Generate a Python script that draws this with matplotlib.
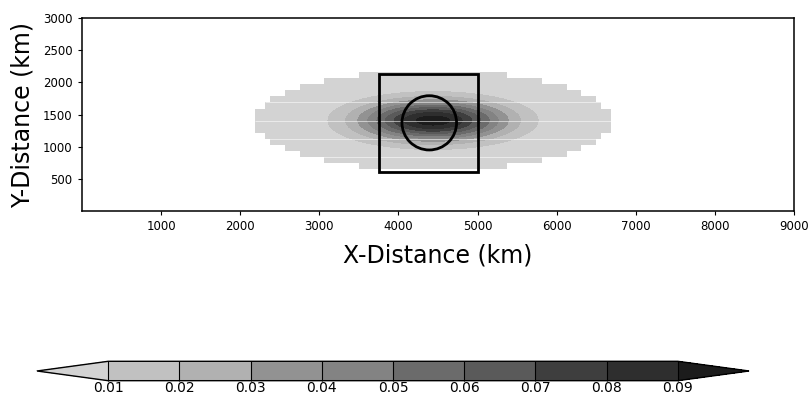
import numpy as np
import matplotlib
matplotlib.use("Agg")
import matplotlib.pyplot as plt
from matplotlib.colors import ListedColormap, BoundaryNorm
from matplotlib.patches import Rectangle, Ellipse
import matplotlib.cm as cm

plt.rcParams['font.family'] = ['DejaVu Sans']

# contour levels and grey shades (under, 8 bands, over)
levels = [0.01, 0.02, 0.03, 0.04, 0.05, 0.06, 0.07, 0.08, 0.09]
grays = ['#d3d3d3', '#c1c1c1', '#b1b1b1', '#929292', '#838383',
         '#6b6b6b', '#5a5a5a', '#3e3e3e', '#2e2e2e', '#1c1c1c']

# blob parameters (km)
blob_center = (4437.5, 1406.25)
blob_amp = 0.095
blob_len = (885.0, 301.0)
blob_min = 1.4e-4          # below this the model field is missing
grid_step = (62.5, 93.75)  # coarse model grid

# overlays
box_x = (3750, 5000)
box_y = (600, 2130)
circ_center = (4390, 1370)
circ_radius = (345, 423)

xticks = [1000, 2000, 3000, 4000, 5000, 6000, 7000, 8000, 9000]
yticks = [500, 1000, 1500, 2000, 2500, 3000]
seam_rows = [9, 12, 15, 18]


def field(x, y):
    return blob_amp * np.exp(-((x - blob_center[0]) / blob_len[0]) ** 2
                             - ((y - blob_center[1]) / blob_len[1]) ** 2)


fig = plt.figure(figsize=(8.11, 3.99), dpi=100)
ax = fig.add_axes([0.1011, 0.4719, 0.8779, 0.4822])

# coarse grid: area where field exists
xe = np.arange(0, 9000 + 1, grid_step[0])
ye = np.arange(0, 3000 + 1, grid_step[1])
xc = 0.5 * (xe[:-1] + xe[1:])
yc = 0.5 * (ye[:-1] + ye[1:])
XC, YC = np.meshgrid(xc, yc)
FC = field(XC, YC)
valid = np.ma.masked_less(FC, blob_min)
ax.pcolormesh(xe, ye, valid, cmap=ListedColormap([grays[0]]),
              shading='flat', edgecolors='face', linewidth=0)

# smooth filled contours
xf = np.linspace(0, 9000, 901)
yf = np.linspace(0, 3000, 601)
XF, YF = np.meshgrid(xf, yf)
FF = field(XF, YF)
ax.contourf(xf, yf, FF, levels=levels + [1.0], colors=grays[1:])

# faint raster seams inside the valid area
ok = FC >= blob_min
for k in seam_rows:
    cols = np.where(ok[k - 1] | ok[k])[0]
    if len(cols):
        ax.hlines(ye[k], xe[cols[0]], xe[cols[-1] + 1], color='white',
                  lw=0.7, alpha=0.55)

ax.add_patch(Rectangle((box_x[0], box_y[0]), box_x[1] - box_x[0],
                       box_y[1] - box_y[0], fill=False, lw=2, ec='black', zorder=5))
ax.add_patch(Ellipse(circ_center, 2 * circ_radius[0], 2 * circ_radius[1],
                     fill=False, lw=2, ec='black', zorder=5))

ax.set_xlim(0, 9000)
ax.set_ylim(0, 3000)
ax.set_xticks(xticks)
ax.set_yticks(yticks)
ax.tick_params(direction='out', length=3, width=0.8, labelsize=8.5, pad=4)
for s in ax.spines.values():
    s.set_linewidth(1.1)
ax.set_xlabel('X-Distance (km)', fontsize=17, labelpad=7)
ax.set_ylabel('Y-Distance (km)', fontsize=17, labelpad=6)

# colorbar
cax = fig.add_axes([0.0456, 0.0459, 0.878, 0.0486])
cmap = ListedColormap(grays[1:-1])
cmap.set_under(grays[0])
cmap.set_over(grays[-1])
norm = BoundaryNorm(levels, cmap.N)
sm = cm.ScalarMappable(norm=norm, cmap=cmap)
cb = fig.colorbar(sm, cax=cax, orientation='horizontal', extend='both',
                  extendfrac=0.125, drawedges=True, ticks=levels)
cb.outline.set_linewidth(1.0)
cb.dividers.set_linewidth(0.8)
cb.ax.set_xticklabels(['%.2f' % v for v in levels])
cb.ax.tick_params(length=0, labelsize=10, pad=0.5)

fig.savefig('out.png', dpi=100)
